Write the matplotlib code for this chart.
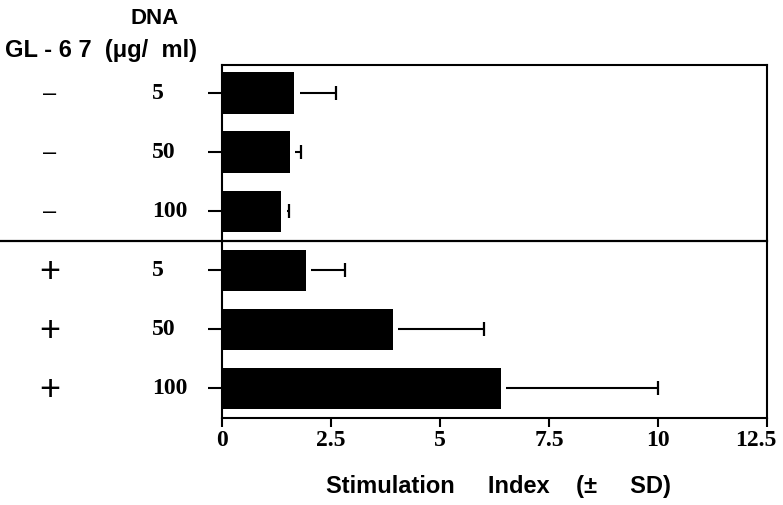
import matplotlib
matplotlib.use("Agg")
import matplotlib.pyplot as plt
import matplotlib.transforms as mtransforms
import numpy as np

gl67 = ["\u2013", "\u2013", "\u2013", "+", "+", "+"]
dna = ["5", "50", "100", "5", "50", "100"]
means = [1.66, 1.55, 1.36, 1.93, 3.92, 6.40]
sds = [0.95, 0.27, 0.17, 0.90, 2.08, 3.60]
xticks = [0, 2.5, 5, 7.5, 10, 12.5]
xticklabels = ["0", "2.5", "5", "7.5", "10", "12.5"]

serif = ["Liberation Serif", "DejaVu Serif"]
sans = ["Liberation Sans", "DejaVu Sans"]

W, H = 783, 505
fig = plt.figure(figsize=(W / 100, H / 100), dpi=100)
ax = fig.add_axes([222 / W, 1 - 418 / H, 545 / W, 353 / H])

pos = np.arange(len(means))
gap = 0.12
starts = [m + gap for m in means]
ends = [m + s for m, s in zip(means, sds)]
ax.hlines(pos, starts, ends, color="black", lw=1.5, zorder=1)
ax.plot(ends, pos, ls="none", marker="|", ms=9.5, mew=1.6, color="black", zorder=1)
ax.barh(pos, means, height=0.7, color="black", zorder=2)

ax.set_xlim(0, 12.5)
ax.set_ylim(5.5, -0.475)
ax.set_xticks(xticks)
ax.set_xticklabels(xticklabels, fontfamily=serif, fontweight="bold", fontsize=17)
ax.set_yticks(pos)
ax.set_yticklabels([])
ax.tick_params(axis="x", direction="out", length=6.5, width=1.5, pad=2)
ax.tick_params(axis="y", direction="out", length=10, width=1.5)
for sp in ax.spines.values():
    sp.set_linewidth(1.5)

# last tick label is pulled left so it stays inside the figure
last = ax.get_xticklabels()[-1]
last.set_transform(last.get_transform() +
                   mtransforms.ScaledTranslation(-11 / 100, 0, fig.dpi_scale_trans))

# divider between the two groups, running to the left edge of the figure
ax.plot([-0.41, 1.0], [2.5, 2.5], transform=ax.get_yaxis_transform(),
        color="black", lw=1.6, clip_on=False, zorder=3)

trans = ax.get_yaxis_transform()
for i in range(len(means)):
    ax.text((152 - 222) / 545, pos[i], dna[i], transform=trans, ha="left", va="center",
            fontfamily=serif, fontweight="bold", fontsize=17)
    ax.text((50 - 222) / 545, pos[i] + (0.04 if gl67[i] == "+" else 0.02), gl67[i],
            transform=trans, ha="center", va="center",
            fontfamily=sans, fontweight="normal", fontsize=26 if gl67[i] == "+" else 17)

fig.text(155 / W, 1 - 18 / H, "DNA", ha="center", va="center",
         fontfamily=sans, fontweight="bold", fontsize=16)
fig.text(5 / W, 1 - 51 / H, "GL - 6 7  (\u03bcg/  ml)", ha="left", va="center",
         fontfamily=sans, fontweight="bold", fontsize=17)
fig.text(498 / W, 1 - 487 / H, "Stimulation     Index    (\u00b1     SD)", ha="center", va="center",
         fontfamily=sans, fontweight="bold", fontsize=17)

fig.savefig("out.png", dpi=100)
